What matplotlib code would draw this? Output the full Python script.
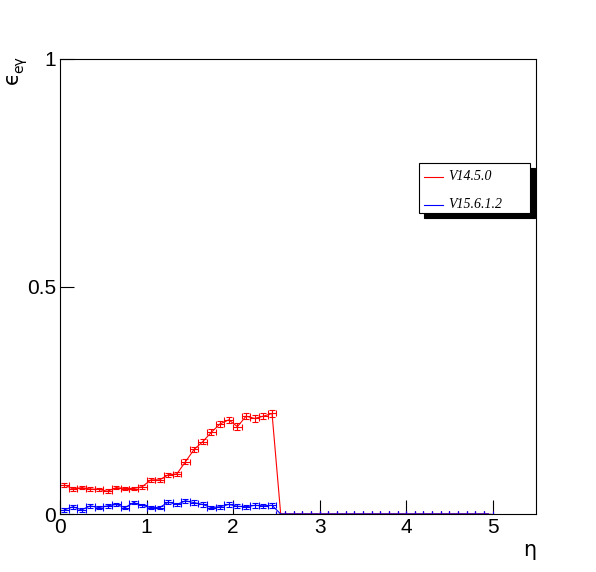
import numpy as np
import matplotlib
matplotlib.use("Agg")
from matplotlib import pyplot as plt
from matplotlib.patches import Rectangle
from matplotlib.lines import Line2D

# bins of 0.1 in eta, 0 -> 5
eta = [0.05, 0.15, 0.25, 0.35, 0.45, 0.55, 0.65, 0.75, 0.85, 0.95,
       1.05, 1.15, 1.25, 1.35, 1.45, 1.55, 1.65, 1.75, 1.85, 1.95,
       2.05, 2.15, 2.25, 2.35, 2.45, 2.55, 2.65, 2.75, 2.85, 2.95,
       3.05, 3.15, 3.25, 3.35, 3.45, 3.55, 3.65, 3.75, 3.85, 3.95,
       4.05, 4.15, 4.25, 4.35, 4.45, 4.55, 4.65, 4.75, 4.85, 4.95]

eff_v14 = [0.064, 0.055, 0.058, 0.055, 0.054, 0.050, 0.058, 0.056, 0.056, 0.060,
           0.075, 0.075, 0.086, 0.088, 0.115, 0.142, 0.159, 0.180, 0.198, 0.207,
           0.192, 0.215, 0.210, 0.215, 0.221] + [0.0] * 25
err_v14 = [0.004, 0.004, 0.004, 0.004, 0.004, 0.004, 0.004, 0.004, 0.004, 0.004,
           0.005, 0.005, 0.005, 0.005, 0.006, 0.006, 0.006, 0.006, 0.007, 0.007,
           0.007, 0.007, 0.007, 0.007, 0.007] + [0.0] * 25

eff_v15 = [0.009, 0.016, 0.009, 0.018, 0.014, 0.018, 0.021, 0.014, 0.025, 0.019,
           0.014, 0.014, 0.026, 0.021, 0.029, 0.025, 0.021, 0.014, 0.016, 0.021,
           0.017, 0.016, 0.019, 0.018, 0.019] + [0.0] * 25
err_v15 = [0.004, 0.004, 0.004, 0.004, 0.004, 0.004, 0.004, 0.004, 0.004, 0.004,
           0.004, 0.004, 0.004, 0.004, 0.005, 0.005, 0.005, 0.004, 0.004, 0.005,
           0.004, 0.004, 0.005, 0.005, 0.005] + [0.0] * 25

labels = ["V14.5.0", "V15.6.1.2"]
colors = ["#ff0000", "#0000ff"]

W, H = 596, 572
fig = plt.figure(figsize=(W / 100, H / 100), dpi=100)
ax = fig.add_axes([60 / W, 1 - 514 / H, 476 / W, 455 / H])

for y, e, c in [(eff_v14, err_v14, colors[0]), (eff_v15, err_v15, colors[1])]:
    ax.errorbar(eta, y, xerr=0.05, yerr=e, color=c, lw=0.8, elinewidth=0.8,
                capsize=2, capthick=0.8, fmt='-')

ax.set_xlim(0, 5.5)
ax.set_ylim(0, 1)
ax.set_xticks([0, 1, 2, 3, 4, 5])
ax.set_yticks([0, 0.5, 1])
ax.set_xticklabels(["0", "1", "2", "3", "4", "5"])
ax.set_yticklabels(["0", "0.5", "1"])
ax.tick_params(direction='in', length=10, width=0.8, labelsize=15, pad=3)
for lab in ax.get_xticklabels() + ax.get_yticklabels():
    lab.set_family('Liberation Sans')
for s in ax.spines.values():
    s.set_linewidth(0.8)

# axis titles, upright greek like ROOT
fig.text(12 / W, 1 - 78 / H, "\u03f5", rotation=90, fontsize=15,
         family='DejaVu Sans', ha='center', va='center')
fig.text(19 / W, 1 - 65 / H, "e\u03b3", rotation=90, fontsize=10,
         family='DejaVu Sans', ha='center', va='center')
fig.text(530 / W, 1 - 550 / H, "\u03b7", fontsize=15, family='DejaVu Sans',
         ha='center', va='center')

# legend box with ROOT-like shadow
bx0, bx1, by0, by1 = 419, 530, 163, 213
fig.patches.append(Rectangle(((bx0 + 5) / W, 1 - (by1 + 5) / H), (bx1 - bx0) / W,
                             (by1 - by0) / H, transform=fig.transFigure,
                             facecolor='black', edgecolor='black', lw=0.8))
fig.patches.append(Rectangle((bx0 / W, 1 - by1 / H), (bx1 - bx0) / W,
                             (by1 - by0) / H, transform=fig.transFigure,
                             facecolor='white', edgecolor='black', lw=0.8))
for i, (lab, c) in enumerate(zip(labels, colors)):
    yy = 1 - (177 + 28 * i) / H
    fig.lines.append(Line2D([424 / W, 443 / W], [yy, yy], color=c, lw=0.8,
                            transform=fig.transFigure))
    fig.text(448 / W, yy, lab, fontsize=10, family='Liberation Serif',
             style='italic', va='center', ha='left')

fig.savefig("out.png", dpi=100)
